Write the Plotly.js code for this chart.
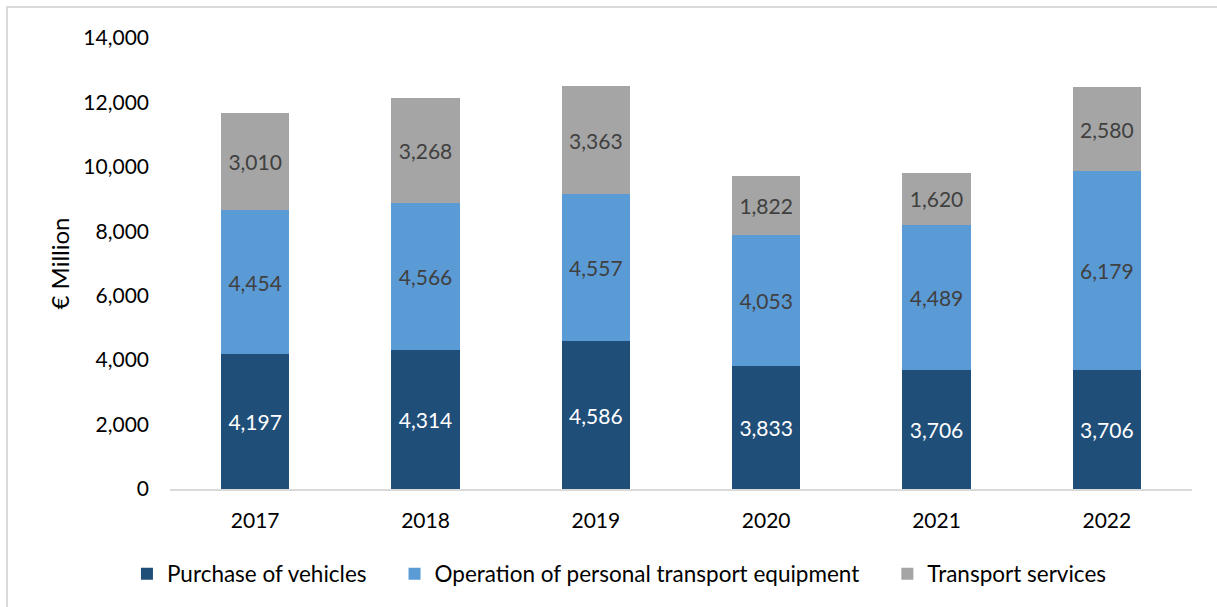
<!DOCTYPE html>
<html><head><meta charset="utf-8">
<script src="https://cdn.plot.ly/plotly-3.0.1.min.js"></script>
<style>
html,body{margin:0;padding:0;background:#fff;}
#wrap{position:relative;width:1217px;height:607px;overflow:hidden;}
#chart{position:absolute;left:0;top:0;width:1217px;height:607px;}
#frame{position:absolute;left:6px;top:6px;width:1300px;height:700px;border-left:2px solid #d9d9d9;border-top:2px solid #d9d9d9;pointer-events:none;}
</style></head>
<body>
<div id="wrap"><div id="chart"></div><div id="frame"></div></div>
<script>
const years = ['2017','2018','2019','2020','2021','2022'];
const purchase = [4197, 4314, 4586, 3833, 3706, 3706];
const operation = [4454, 4566, 4557, 4053, 4489, 6179];
const services = [3010, 3268, 3363, 1822, 1620, 2580];
const seriesNames = ['Purchase of vehicles','Operation of personal transport equipment','Transport services'];
const yTicks = [0,2000,4000,6000,8000,10000,12000,14000];

const FONT = 'Lato, "Open Sans", "Liberation Sans", sans-serif';
const PAD = '\u00A0\u00A0\u00A0\u00A0';
function fmt(v){return v.toLocaleString('en-US');}
function mk(name, vals, color, txtColor, pad){
  return {type:'bar', name:name + pad, x:years, y:vals, marker:{color:color},
    text:vals.map(fmt), textposition:'inside', insidetextanchor:'middle',
    textfont:{family:FONT, size:21, color:txtColor}, constraintext:'none',
    hoverinfo:'x+y+name'};
}
const data = [
  mk(seriesNames[0], purchase, '#1F4E79', '#ffffff', PAD),
  mk(seriesNames[1], operation, '#5B9BD5', '#404040', PAD),
  mk(seriesNames[2], services, '#A5A5A5', '#404040', '')
];
const layout = {
  width:1217, height:607,
  margin:{l:170, r:25, t:38, b:118},
  barmode:'stack', bargap:0.6,
  paper_bgcolor:'#fff', plot_bgcolor:'#fff',
  font:{family:FONT, size:21, color:'#000'},
  showlegend:true,
  legend:{orientation:'h', x:0.509, xref:'container', xanchor:'center', y:33/607, yref:'container', yanchor:'middle',
    font:{family:FONT, size:22.5, color:'#000'}, traceorder:'normal', itemwidth:30, tracegroupgap:0},
  xaxis:{type:'category', showline:true, linecolor:'#d9d9d9', linewidth:2, showgrid:false, zeroline:false,
    ticks:'', ticklabelstandoff:12, tickfont:{family:FONT, size:21, color:'#000'}, fixedrange:true},
  yaxis:{range:[0,14000], tickvals:yTicks, ticktext:yTicks.map(fmt), showgrid:false, zeroline:false, showline:false,
    ticks:'', ticklabelstandoff:20, tickfont:{family:FONT, size:21, color:'#000'},
    title:{text:'€ Million', font:{family:FONT, size:24, color:'#000'}, standoff:6}, fixedrange:true}
};
Plotly.newPlot('chart', data, layout, {displayModeBar:false, staticPlot:true});
</script>
</body></html>
